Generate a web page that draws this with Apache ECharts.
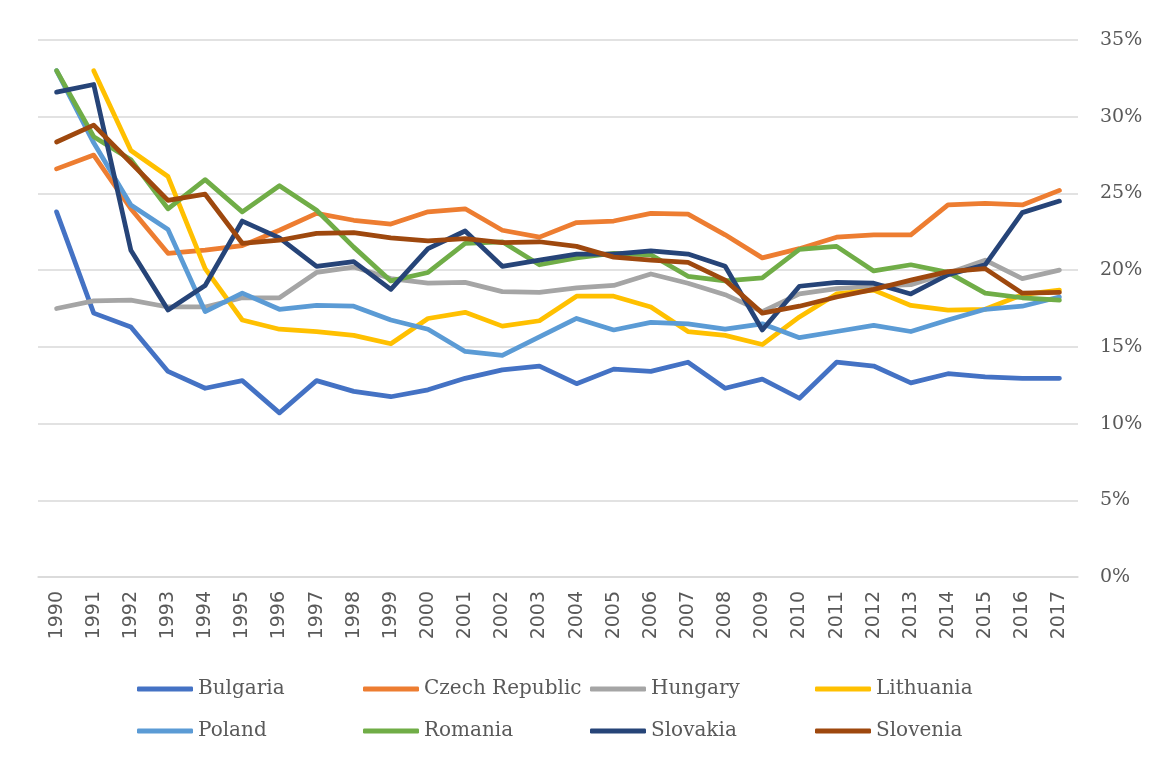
<!DOCTYPE html>
<html>
<head>
<meta charset="utf-8">
<script src="https://cdn.jsdelivr.net/npm/echarts@6/dist/echarts.min.js"></script>
<style>html,body{margin:0;padding:0;background:#fff}#c{width:1157px;height:761px}</style>
</head>
<body>
<div id="c"></div>
<script>
const years = ['1990','1991','1992','1993','1994','1995','1996','1997','1998','1999','2000','2001','2002','2003','2004','2005','2006','2007','2008','2009','2010','2011','2012','2013','2014','2015','2016','2017'];
const yTicks = [0,5,10,15,20,25,30,35];
const bulgaria = [23.8,17.2,16.3,13.4,12.3,12.8,10.7,12.8,12.1,11.75,12.2,12.95,13.5,13.75,12.6,13.55,13.4,14.0,12.3,12.9,11.65,14.0,13.75,12.65,13.25,13.05,12.95,12.95];
const czech = [26.6,27.5,24.0,21.1,21.3,21.6,22.6,23.7,23.25,23.0,23.8,24.0,22.6,22.15,23.1,23.2,23.7,23.65,22.3,20.8,21.4,22.15,22.3,22.3,24.25,24.35,24.25,25.2];
const hungary = [17.5,18.0,18.05,17.6,17.6,18.2,18.2,19.85,20.2,19.45,19.15,19.2,18.6,18.55,18.85,19.0,19.75,19.15,18.4,17.3,18.45,18.8,18.95,19.05,19.8,20.65,19.45,20.0];
const lithuania = [null,33.0,27.8,26.1,20.1,16.75,16.15,16.0,15.75,15.2,16.85,17.25,16.35,16.7,18.3,18.3,17.6,16.0,15.75,15.15,16.95,18.45,18.7,17.7,17.4,17.45,18.4,18.7];
const poland = [33.0,28.3,24.25,22.65,17.3,18.5,17.45,17.7,17.65,16.75,16.15,14.7,14.45,15.65,16.85,16.1,16.6,16.5,16.15,16.5,15.6,16.0,16.4,16.0,16.75,17.45,17.65,18.25];
const romania = [33.0,28.7,27.2,24.0,25.9,23.8,25.5,23.9,21.5,19.3,19.85,21.75,21.85,20.35,20.8,21.1,21.0,19.6,19.3,19.5,21.35,21.55,19.95,20.35,19.85,18.5,18.2,18.05];
const slovakia = [31.6,32.1,21.3,17.4,19.0,23.2,22.1,20.25,20.55,18.75,21.4,22.55,20.25,20.65,21.05,21.05,21.25,21.05,20.25,16.1,18.95,19.2,19.15,18.45,19.7,20.35,23.75,24.5];
const slovenia = [28.35,29.45,27.0,24.55,24.95,21.75,21.95,22.4,22.45,22.1,21.9,22.05,21.8,21.85,21.55,20.85,20.65,20.5,19.35,17.2,17.65,18.25,18.75,19.35,19.9,20.1,18.5,18.55];

const names = ['Bulgaria','Czech Republic','Hungary','Lithuania','Poland','Romania','Slovakia','Slovenia'];
const values = [bulgaria,czech,hungary,lithuania,poland,romania,slovakia,slovenia];
const colors = ['#4472C4','#ED7D31','#A5A5A5','#FFC000','#5B9BD5','#70AD47','#264478','#9E480E'];
const FONT = 'DejaVu Serif';

const legendCols = [[0,4],[1,5],[2,6],[3,7]];
const legendLeft = [132,358,585,810];
const legends = legendCols.map((col,i)=>({
  orient:'vertical', left: legendLeft[i], top: 674,
  itemWidth: 56, itemHeight: 5, itemGap: 22,
  icon: 'roundRect',
  selectedMode: false,
  data: col.map(k=>names[k]),
  textStyle:{fontFamily:FONT,fontSize:20,color:'#595959'}
}));

const chart = echarts.init(document.getElementById('c'));
chart.setOption({
  animation:false,
  backgroundColor:'#fff',
  color: colors,
  grid:{left:38,right:79,top:40,bottom:184},
  legend: legends,
  xAxis:{
    type:'category', data: years, boundaryGap:true,
    axisLine:{show:true,lineStyle:{color:'#D9D9D9',width:1.5}},
    axisTick:{show:false},
    axisLabel:{rotate:90,margin:14,fontFamily:'DejaVu Sans',fontSize:19,color:'#595959',interval:0}
  },
  yAxis:{
    type:'value', position:'right', min:0, max:35, interval:5,
    axisLine:{show:false}, axisTick:{show:false},
    splitLine:{lineStyle:{color:'#D9D9D9',width:1.5}},
    axisLabel:{margin:22,fontFamily:FONT,fontSize:19,color:'#595959',formatter:'{value}%'}
  },
  series: names.map((n,i)=>({
    name:n, type:'line', data: values[i], showSymbol:false, symbol:'none',
    lineStyle:{width:4.75,color:colors[i],cap:'round',join:'round'},
    itemStyle:{color:colors[i]}
  }))
});
</script>
</body>
</html>
